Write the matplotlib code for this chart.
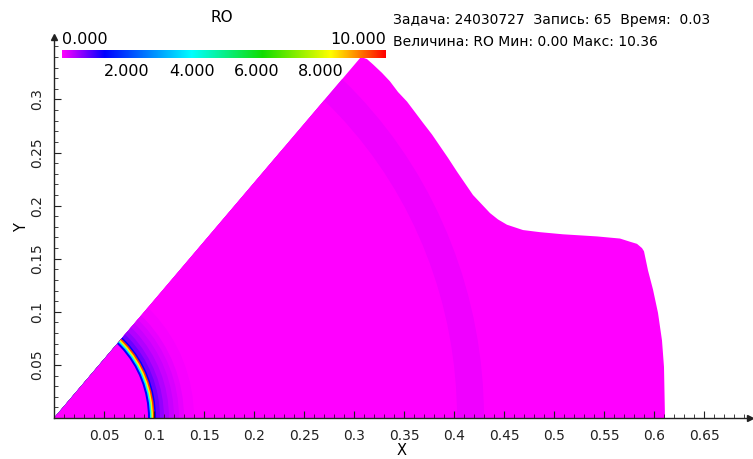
import matplotlib
matplotlib.use('Agg')
import matplotlib.pyplot as plt
from matplotlib.patches import Polygon, Wedge
from matplotlib.colors import LinearSegmentedColormap, Normalize
from matplotlib.ticker import MultipleLocator, FixedLocator
import numpy as np

# ---- data ----
# outer boundary of the computational region (X, Y)
bound_x = [0.0, 0.307, 0.313, 0.319, 0.328, 0.336, 0.344, 0.353, 0.361, 0.369, 0.378,
           0.386, 0.394, 0.403, 0.411, 0.419, 0.428, 0.436, 0.444, 0.453, 0.469, 0.486,
           0.509, 0.543, 0.566, 0.576, 0.583, 0.588, 0.590, 0.594, 0.599, 0.604, 0.608,
           0.610, 0.611]
bound_y = [0.0, 0.340, 0.338, 0.333, 0.325, 0.317, 0.307, 0.298, 0.288, 0.278, 0.267,
           0.256, 0.245, 0.232, 0.221, 0.210, 0.201, 0.193, 0.187, 0.182, 0.177, 0.175,
           0.173, 0.171, 0.169, 0.166, 0.164, 0.160, 0.157, 0.139, 0.121, 0.099, 0.073,
           0.048, 0.0]

# radial rings (outer radius) and RO value in each ring
ring_r = [0.094, 0.096, 0.0975, 0.099, 0.1005, 0.102, 0.106, 0.110, 0.115, 0.120,
          0.125, 0.130, 0.140, 0.343, 0.403, 0.430, 0.800]
ring_ro = [0.0, 1.3, 3.8, 8.2, 9.6, 1.3, 0.75, 0.55, 0.4, 0.3,
           0.22, 0.14, 0.06, 0.015, 0.035, 0.09, 0.01]

# colour scale
cmap_pos = [0.0, 0.13, 0.40, 0.62, 0.83, 0.90, 1.0]
cmap_col = ['#ff00ff', '#0000ff', '#00ffff', '#10dd00', '#ffff00', '#ff9900', '#ff0000']
ro_min, ro_max = 0.0, 10.0
cbar_ticks = [2.0, 4.0, 6.0, 8.0]

x_ticks = [0.05, 0.1, 0.15, 0.2, 0.25, 0.3, 0.35, 0.4, 0.45, 0.5, 0.55, 0.6, 0.65]
x_tick_labels = ['0.05', '0.1', '0.15', '0.2', '0.25', '0.3', '0.35', '0.4', '0.45',
                 '0.5', '0.55', '0.6', '0.65']
y_ticks = [0.05, 0.1, 0.15, 0.2, 0.25, 0.3]
y_tick_labels = ['0.05', '0.1', '0.15', '0.2', '0.25', '0.3']

info_line1 = 'Задача: 24030727  Запись: 65  Время:  0.03'
info_line2 = 'Величина: RO Мин: 0.00 Макс: 10.36'

plt.rcParams['font.family'] = ['DejaVu Sans']

W, H = 753, 459
fig = plt.figure(figsize=(W / 100, H / 100), dpi=100)
ax = fig.add_axes([54 / W, 41 / H, 696 / W, 381 / H])
ax.set_xlim(0, 0.696)
ax.set_ylim(0, 0.3588)

cmap = LinearSegmentedColormap.from_list('ro', list(zip(cmap_pos, cmap_col)))
norm = Normalize(ro_min, ro_max)

poly = Polygon(np.column_stack([bound_x, bound_y]), closed=True,
               facecolor='none', edgecolor='none')
ax.add_patch(poly)

for r, v in sorted(zip(ring_r, ring_ro), key=lambda t: -t[0]):
    w = Wedge((0, 0), r, 0, 90, facecolor=cmap(norm(v)), edgecolor='none', lw=0)
    ax.add_patch(w)
    w.set_clip_path(poly)

# axes styling
for s in ['top', 'right']:
    ax.spines[s].set_visible(False)
for s in ['left', 'bottom']:
    ax.spines[s].set_linewidth(1.0)
    ax.spines[s].set_color('#222222')
ax.plot([1], [0], marker='>', color='#222222', markersize=4, transform=ax.transAxes, clip_on=False)
ax.plot([0], [1], marker='^', color='#222222', markersize=4, transform=ax.transAxes, clip_on=False)

ax.xaxis.set_major_locator(FixedLocator(x_ticks))
ax.set_xticklabels(x_tick_labels)
ax.yaxis.set_major_locator(FixedLocator(y_ticks))
ax.set_yticklabels(y_tick_labels, rotation=90, va='center')
ax.xaxis.set_minor_locator(MultipleLocator(0.01))
ax.yaxis.set_minor_locator(MultipleLocator(0.01))
ax.tick_params(which='major', direction='in', length=5, width=0.8, labelsize=10, pad=8, colors='#222222')
ax.tick_params(which='minor', direction='in', length=3, width=0.6, colors='#222222')
ax.tick_params(axis='y', pad=7)
ax.set_xlabel('X', fontsize=10.5, labelpad=0)
ax.set_ylabel('Y', fontsize=10.5, labelpad=1)

# colour bar
cax = fig.add_axes([62 / W, 1 - 58 / H, 324 / W, 8 / H])
grad = np.linspace(ro_min, ro_max, 512).reshape(1, -1)
cax.imshow(grad, aspect='auto', cmap=cmap, norm=norm, extent=[ro_min, ro_max, 0, 1])
cax.set_axis_off()
fig.text(222 / W, 1 - 18 / H, 'RO', ha='center', va='center', fontsize=11)
fig.text(62 / W, 1 - 40 / H, '0.000', ha='left', va='center', fontsize=11.5)
fig.text(386 / W, 1 - 40 / H, '10.000', ha='right', va='center', fontsize=11.5)
for t in cbar_ticks:
    xp = 62 + (t - ro_min) / (ro_max - ro_min) * 324
    fig.text(xp / W, 1 - 72 / H, f'{t:.3f}', ha='center', va='center', fontsize=11.5)

fig.text(393 / W, 1 - 20 / H, info_line1, ha='left', va='center', fontsize=10)
fig.text(393 / W, 1 - 42 / H, info_line2, ha='left', va='center', fontsize=10)

fig.savefig('out.png', dpi=100)
